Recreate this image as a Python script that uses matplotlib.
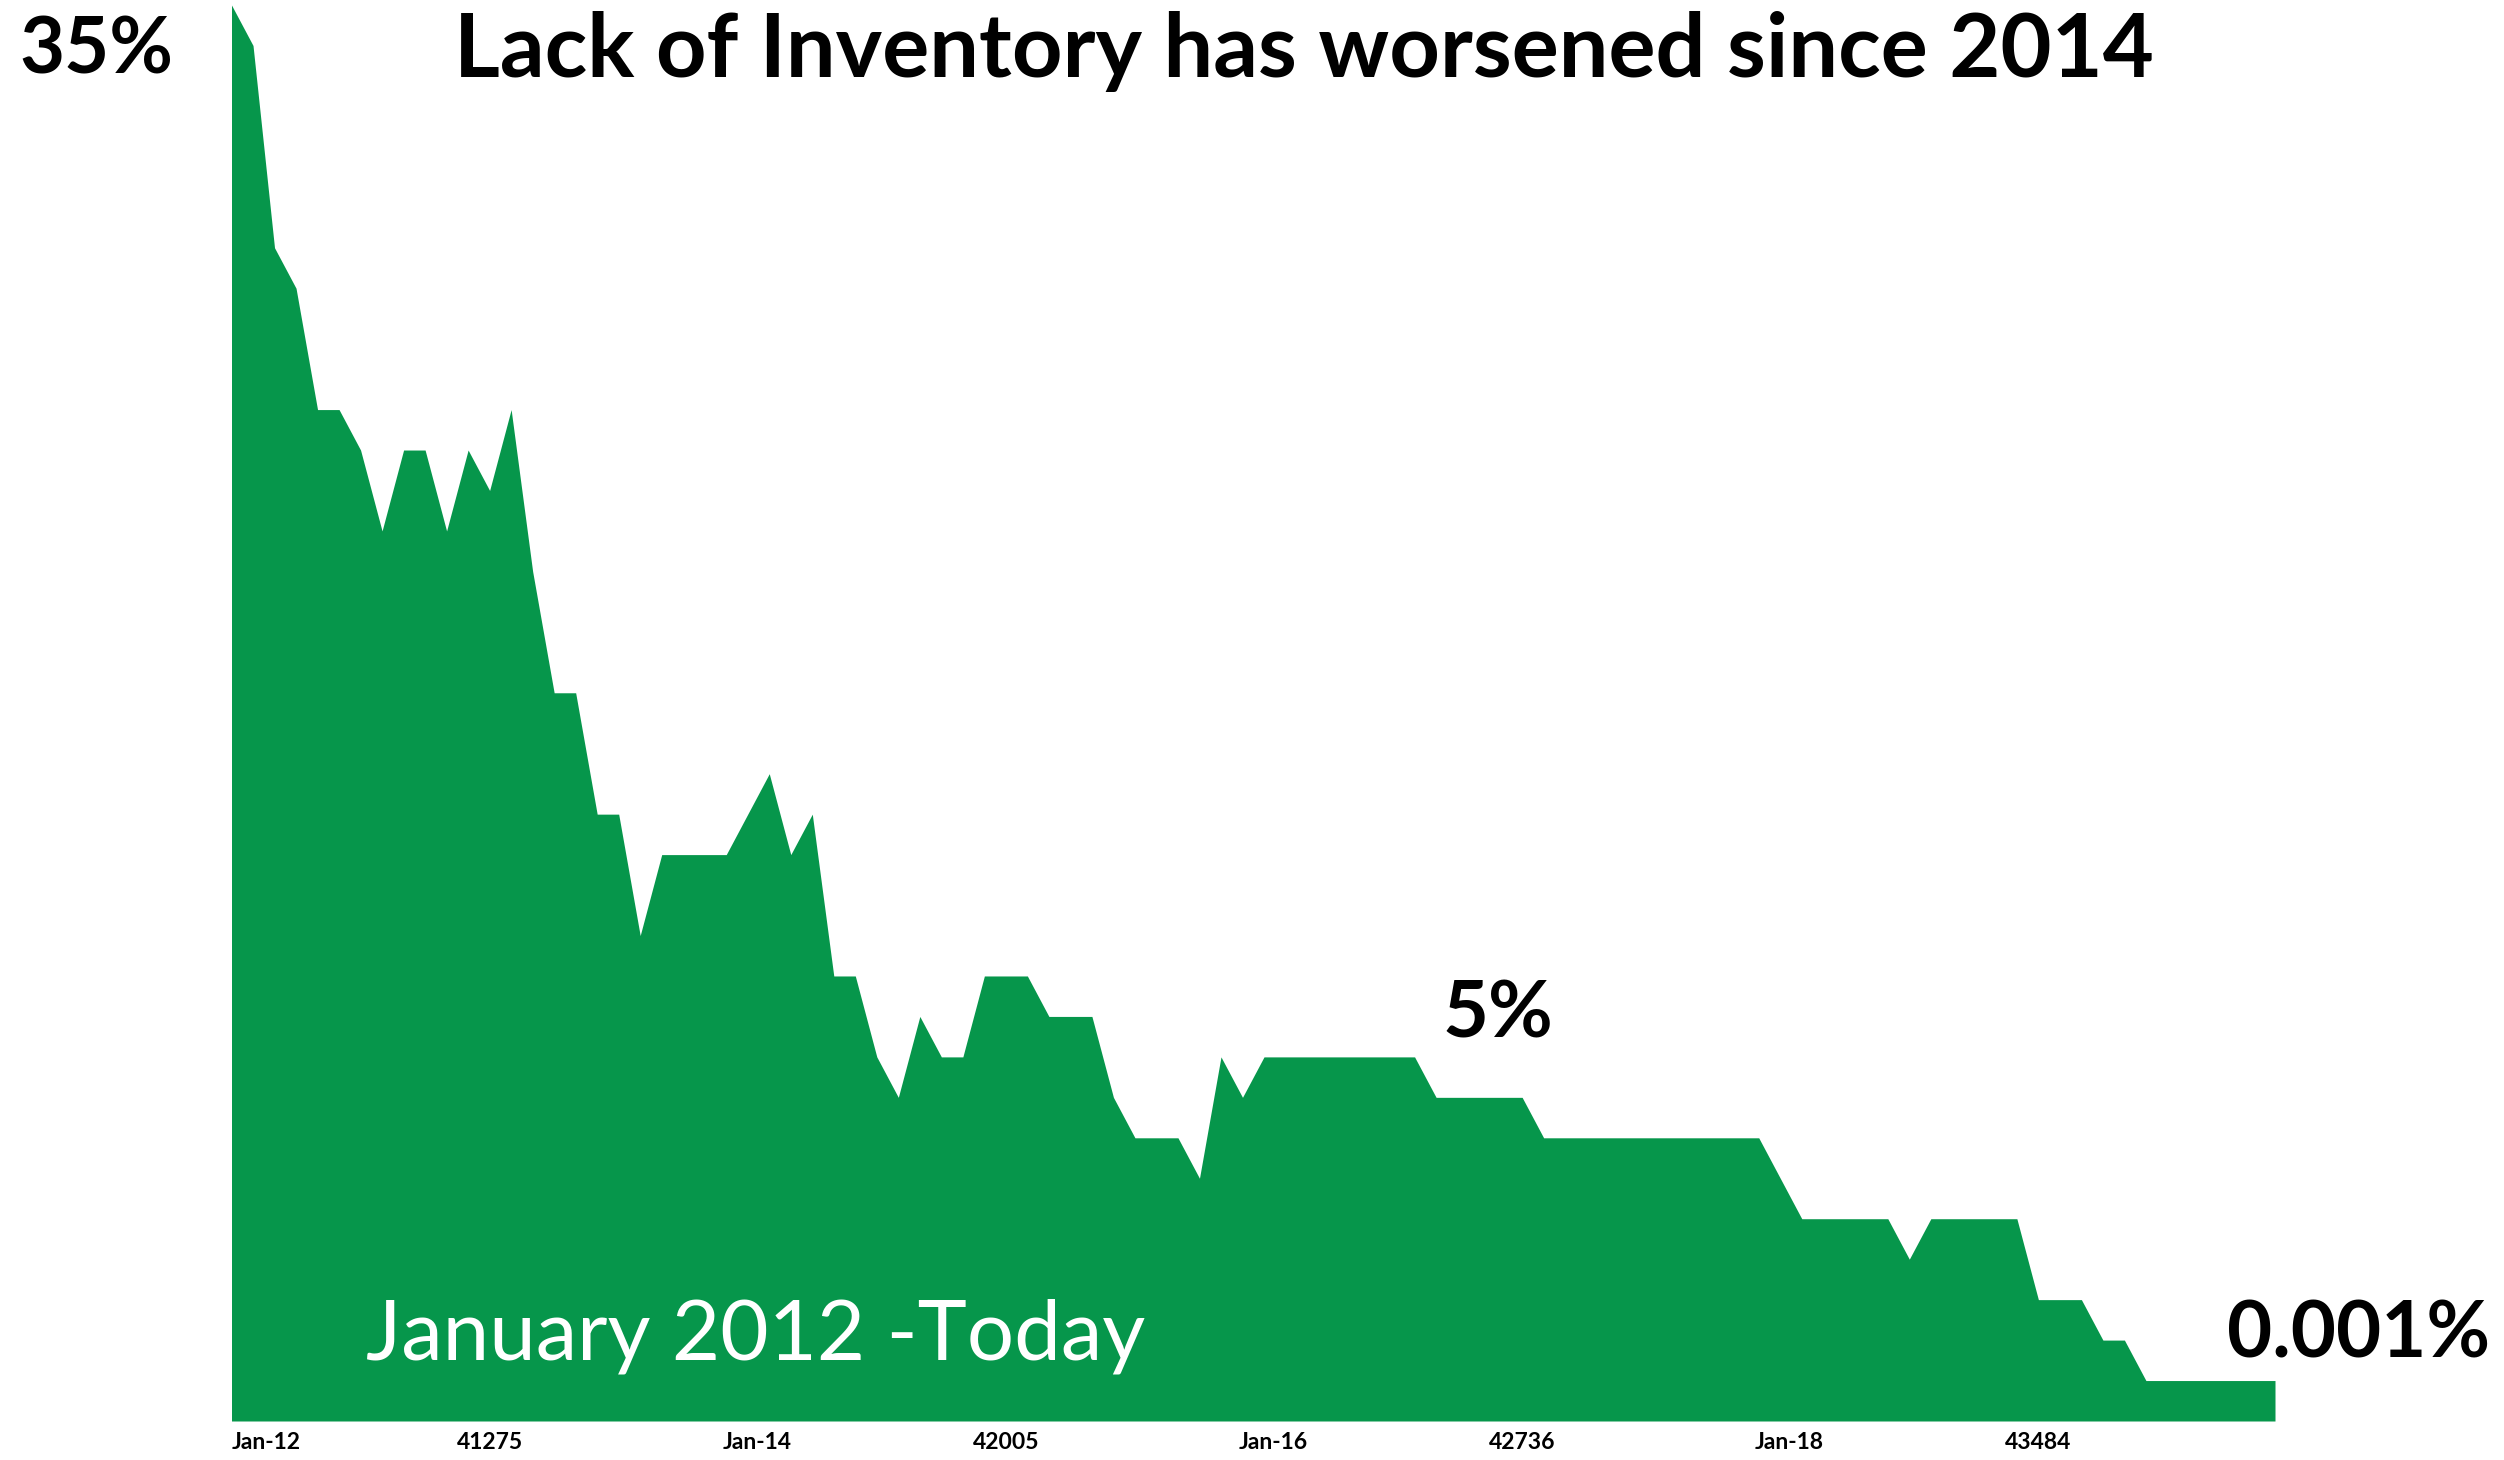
import matplotlib
matplotlib.use("Agg")
import matplotlib.pyplot as plt
from matplotlib.transforms import ScaledTranslation
import pandas as pd

# Monthly series, January 2012 through December 2019
months = pd.date_range("2012-01-01", periods=96, freq="MS")
inventory = [
    35, 34, 29, 28, 25, 25, 24, 22, 24, 24, 22, 24,
    23, 25, 21, 18, 18, 15, 15, 12, 14, 14, 14, 14,
    15, 16, 14, 15, 11, 11, 9, 8, 10, 9, 9, 11,
    11, 11, 10, 10, 10, 8, 7, 7, 7, 6, 9, 8,
    9, 9, 9, 9, 9, 9, 9, 9, 8, 8, 8, 8,
    8, 7, 7, 7, 7, 7, 7, 7, 7, 7, 7, 7,
    6, 5, 5, 5, 5, 5, 4, 5, 5, 5, 5, 5,
    3, 3, 3, 2, 2, 1, 1, 1, 1, 1, 1, 1,
]
tick_labels = ["Jan-12", "41275", "Jan-14", "42005", "Jan-16", "42736", "Jan-18", "43484"]

GREEN = "#06964B"
FONT = ["Lato", "DejaVu Sans"]

W, H = 2504, 1460
fig = plt.figure(figsize=(W / 100, H / 100), dpi=100)
fig.patch.set_facecolor("white")

left, right, bottom, top = 231.5, 2275, 1421, 5
ax = fig.add_axes([left / W, 1 - bottom / H, (right - left) / W, (bottom - top) / H])

x = list(range(len(inventory)))
ax.fill_between(x, inventory, 0, color=GREEN, linewidth=0)
ax.set_xlim(0, len(inventory) - 1)
ax.set_ylim(0, 35)

for s in ax.spines.values():
    s.set_visible(False)
ax.set_yticks([])
ticks = list(range(0, len(inventory), 12))
ax.set_xticks(ticks)
ax.set_xticklabels(tick_labels, fontfamily=FONT, fontweight="bold", fontsize=16.5)
ax.tick_params(axis="x", length=0, pad=8)
labels = ax.get_xticklabels()
labels[0].set_horizontalalignment("left")
for lab in labels[1:]:
    if lab.get_text().startswith("Jan"):
        lab.set_transform(lab.get_transform() + ScaledTranslation(0.09, 0, fig.dpi_scale_trans))

# Headline and callouts
fig.text(1304 / W, 1 - 76.5 / H, "Lack of Inventory has worsened since 2014",
         ha="center", va="baseline", fontsize=63.5, fontweight="bold",
         family=FONT, color="black")
fig.text(96 / W, 1 - 73 / H, "35%", ha="center", va="baseline",
         fontsize=56, fontweight="bold", family=FONT, color="black")
fig.text(1498 / W, 1 - 1037 / H, "5%", ha="center", va="baseline",
         fontsize=57, fontweight="bold", family=FONT, color="black")
fig.text(2359 / W, 1 - 1358 / H, "0.001%", ha="center", va="baseline",
         fontsize=56, fontweight="bold", family=FONT, color="black")
fig.text(756 / W, 1 - 1359 / H, "January 2012 -Today", ha="center", va="baseline",
         fontsize=60, fontweight="normal", family=FONT, color="white")

fig.savefig("out.png", dpi=100, facecolor="white")
